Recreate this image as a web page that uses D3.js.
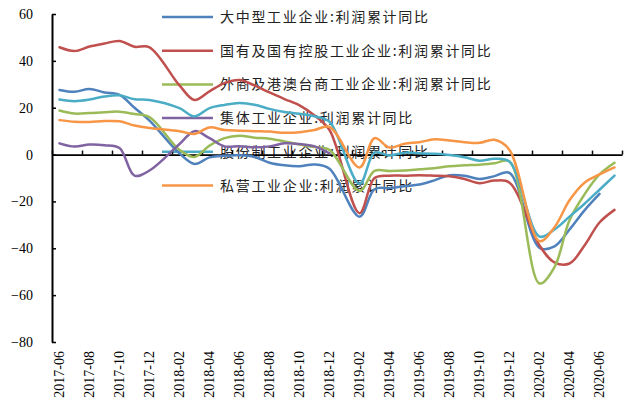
<!DOCTYPE html>
<html><head><meta charset="utf-8">
<script src="https://cdn.jsdelivr.net/npm/d3@7"></script>
<style>
html,body{margin:0;padding:0;background:#fff;}
svg{display:block;}
.tick text{font-family:"Liberation Serif","Times New Roman",serif;font-size:14px;fill:#000;}
</style></head>
<body><svg id="chart" width="626" height="402"></svg>
<script>
const months = ["2017-06","2017-07","2017-08","2017-09","2017-10","2017-11","2017-12",
"2018-01","2018-02","2018-03","2018-04","2018-05","2018-06","2018-07","2018-08","2018-09","2018-10","2018-11","2018-12",
"2019-01","2019-02","2019-03","2019-04","2019-05","2019-06","2019-07","2019-08","2019-09","2019-10","2019-11","2019-12",
"2020-01","2020-02","2020-03","2020-04","2020-05","2020-06","2020-07"];
const seriesNames = ["大中型工业企业:利润累计同比","国有及国有控股工业企业:利润累计同比","外商及港澳台商工业企业:利润累计同比",
"集体工业企业:利润累计同比","股份制工业企业:利润累计同比","私营工业企业:利润累计同比"];
const colors = ["#4F81BD","#C0504D","#9BBB59","#8064A2","#4BACC6","#F79646"];
const largeMedium = [27.6,26.8,28.0,26.5,25.5,20.0,14.5,null,0.5,-4.0,-1.2,-0.5,-0.3,-1.0,-3.5,-4.6,-5.0,-4.2,-6.0,null,
-26.5,-14.8,-14.3,-13.5,-12.8,-11.0,-8.8,-9.0,-10.4,-9.2,-7.8,null,-39.8,-39.2,-32.0,-23.8,-16.8,null];
const stateOwned = [45.8,44.2,46.1,47.4,48.5,46.0,45.8,null,29.5,23.3,27.0,30.5,31.8,29.5,26.5,23.7,21.0,16.7,10.5,null,
-25.0,-10.0,-9.0,-9.0,-8.8,-9.0,-9.3,-10.4,-12.2,-11.1,-12.0,null,-38.8,-46.0,-46.5,-38.8,-29.0,-23.6];
const foreignFunded = [18.8,17.5,17.7,18.1,18.3,17.3,16.0,null,2.0,-1.0,3.8,7.0,8.0,7.2,6.8,5.6,4.3,3.2,2.0,null,
-15.5,-7.0,-7.0,-6.8,-6.3,-5.8,-5.0,-4.6,-4.3,-3.7,-3.0,null,-55.0,-48.0,-28.0,-17.0,-8.5,-3.5];
const collective = [4.8,3.4,4.3,4.0,2.8,-9.0,-6.8,null,4.5,10.0,7.0,3.5,3.6,3.1,3.5,4.8,4.5,3.5,0.5,null,
null,null,null,null,null,null,null,null,null,null,null,null,null,null,null,null,null,null];
const jointStock = [23.5,22.8,23.5,24.8,25.3,23.6,23.3,null,19.8,16.3,19.8,21.2,22.0,21.3,19.5,18.2,17.4,16.3,14.0,null,
-12.5,0.8,-0.4,0.8,0.6,0.3,-0.2,-1.1,-2.6,-1.8,-3.0,null,-35.0,-32.0,-26.5,-21.0,-15.0,-9.0];
const privateOwned = [14.7,14.0,13.9,14.3,14.2,12.4,11.3,null,10.0,8.8,11.6,10.5,10.2,10.0,9.8,9.3,9.5,10.5,11.8,null,
-5.5,7.0,3.0,4.6,5.3,6.5,6.0,5.3,5.0,6.3,2.0,null,-37.0,-31.0,-19.5,-12.0,-8.5,-5.5];
const yTicks = [-80,-60,-40,-20,0,20,40,60];
const xLabelMonths = months.filter((m,i)=>i%2===0);

const seriesValues = [largeMedium,stateOwned,foreignFunded,collective,jointStock,privateOwned];

const svg = d3.select("#chart");
const plotLeft=52, plotRight=622, plotTop=14, plotBottom=342;
const x = d3.scaleBand().domain(months).range([plotLeft,plotRight]).padding(0);
const xi = d3.scaleLinear().domain([0,months.length]).range([plotLeft,plotRight]);
const y = d3.scaleLinear().domain([-80,60]).range([plotBottom,plotTop]);

// legend (drawn first, lines pass over it)
const lg = svg.append("g");
seriesNames.forEach((name,k)=>{
  const ly = 17 + k*33.7;
  lg.append("line").attr("x1",162).attr("x2",213).attr("y1",ly).attr("y2",ly)
    .attr("stroke",colors[k]).attr("stroke-width",2.5);
  lg.append("text").attr("x",220).attr("y",ly+5).text(name)
    .attr("font-family","'Noto Sans CJK SC',sans-serif").attr("font-size",14)
    .attr("letter-spacing","1.7px").attr("fill","#222");
});

// y axis
const yAxis = svg.append("g").attr("transform",`translate(${plotLeft},0)`)
  .call(d3.axisLeft(y).tickValues(yTicks).tickSize(-4).tickSizeOuter(0).tickPadding(19).tickFormat(d3.format("d")));
yAxis.select(".domain").attr("stroke","#000").attr("stroke-width",2);
yAxis.selectAll(".tick line").attr("stroke","#000").attr("stroke-width",1.5);

// x labels at bottom
const xLab = svg.append("g").attr("transform",`translate(0,${plotBottom})`)
  .call(d3.axisBottom(x).tickValues(xLabelMonths).tickSize(0).tickPadding(0));
xLab.select(".domain").remove();
xLab.selectAll(".tick text").attr("transform","rotate(-90)").attr("text-anchor","end")
  .attr("x",-9).attr("y",0).attr("dy","0.35em");

// zero line with ticks
const tickIdx = d3.range(0, months.length+1, 2);
const xAxis = svg.append("g").attr("transform",`translate(0,${y(0)})`)
  .call(d3.axisBottom(xi).tickValues(tickIdx).tickSize(-4).tickSizeOuter(0).tickFormat(""));
xAxis.select(".domain").attr("stroke","#000").attr("stroke-width",1.8);
xAxis.selectAll(".tick line").attr("stroke","#000").attr("stroke-width",1.5);

// lines
const line = d3.line()
  .x(d=>x(d.m)+x.bandwidth()/2)
  .y(d=>y(d.v))
  .curve(d3.curveCatmullRom.alpha(0.5));
seriesValues.forEach((vals,k)=>{
  const pts = months.map((m,i)=>({m, v: vals[i]})).filter(d=>d.v!==null);
  svg.append("path").datum(pts).attr("d",line)
    .attr("fill","none").attr("stroke",colors[k]).attr("stroke-width",2.5)
    .attr("stroke-linejoin","round").attr("stroke-linecap","round");
});
</script></body></html>
